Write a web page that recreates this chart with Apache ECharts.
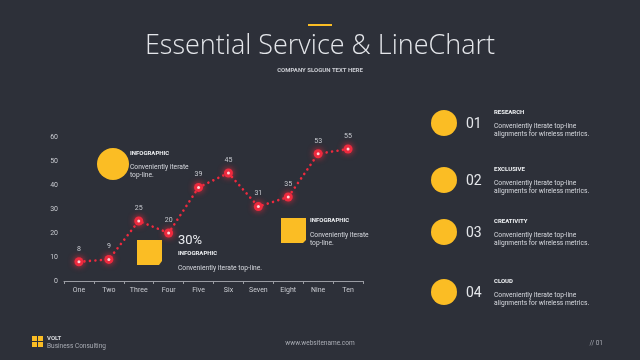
<!DOCTYPE html>
<html><head><meta charset="utf-8">
<script src="https://cdn.jsdelivr.net/npm/echarts@6/dist/echarts.min.js"></script>
<style>html,body{margin:0;padding:0;background:#2d3039;}#c{width:640px;height:360px;}</style>
</head><body><div id="c"></div>
<script>
const categories = ['One','Two','Three','Four','Five','Six','Seven','Eight','Nine','Ten'];
const values = [8, 9, 25, 20, 39, 45, 31, 35, 53, 55];
const yMin = 0, yMax = 60, yStep = 10;
const features = [
  {num:'01', title:'RESEARCH'},
  {num:'02', title:'EXCLUSIVE'},
  {num:'03', title:'CREATIVITY'},
  {num:'04', title:'CLOUD'}
];
const featureY = [123, 180, 232, 292];
const featureDesc = 'Conveniently iterate top-line\nalignments for wireless metrics.';

const GOLD = '#fbbd24', RED = '#ee2a3e', TXT = '#d6d8de';
const chart = echarts.init(document.getElementById('c'));

const g = [];
g.push({type:'rect', shape:{x:308,y:24,width:24,height:2}, style:{fill:GOLD}});
g.push({type:'text', x:320, y:46, style:{text:'Essential Service & LineChart', fill:'#e4e6ea', font:'300 27px "Open Sans"', textAlign:'center', textVerticalAlign:'middle'}});
g.push({type:'text', x:320, y:70, style:{text:'COMPANY SLOGUN TEXT HERE', fill:'#c9cbd1', font:'bold 6px "Liberation Sans Narrow", Roboto', textAlign:'center', textVerticalAlign:'middle'}});
g.push({type:'circle', shape:{cx:113,cy:164,r:16}, style:{fill:GOLD}});
g.push({type:'text', x:130, y:153, style:{text:'INFOGRAPHIC', fill:'#eef0f3', font:'bold 6px Roboto', textVerticalAlign:'middle'}});
g.push({type:'text', x:130, y:171, style:{text:'Conveniently iterate\ntop-line.', fill:TXT, font:'6.7px Roboto', lineHeight:8, textVerticalAlign:'middle'}});
g.push({type:'polygon', shape:{points:[[137,240],[162,240],[162,261],[159,265],[137,265]]}, style:{fill:GOLD}});
g.push({type:'text', x:178, y:241, style:{text:'30%', fill:'#e8eaee', font:'13px Roboto', textVerticalAlign:'middle'}});
g.push({type:'text', x:178, y:253, style:{text:'INFOGRAPHIC', fill:'#eef0f3', font:'bold 6px Roboto', textVerticalAlign:'middle'}});
g.push({type:'text', x:178, y:268, style:{text:'Conveniently iterate top-line.', fill:TXT, font:'6.7px Roboto', textVerticalAlign:'middle'}});
g.push({type:'polygon', shape:{points:[[281,218],[306,218],[306,240],[303,243],[281,243]]}, style:{fill:GOLD}});
g.push({type:'text', x:310, y:220, style:{text:'INFOGRAPHIC', fill:'#eef0f3', font:'bold 6px Roboto', textVerticalAlign:'middle'}});
g.push({type:'text', x:310, y:239, style:{text:'Conveniently iterate\ntop-line.', fill:TXT, font:'6.7px Roboto', lineHeight:8, textVerticalAlign:'middle'}});
features.forEach((f,i)=>{
  const y = featureY[i];
  g.push({type:'circle', shape:{cx:444,cy:y,r:13}, style:{fill:GOLD}});
  g.push({type:'text', x:466, y:y+1, style:{text:f.num, fill:'#e4e6ea', font:'14px Roboto', textVerticalAlign:'middle'}});
  g.push({type:'text', x:494, y:y-11, style:{text:f.title, fill:'#eef0f3', font:'bold 6px Roboto', textVerticalAlign:'middle'}});
  g.push({type:'text', x:494, y:y+7.5, style:{text:featureDesc, fill:TXT, font:'6.7px Roboto', lineHeight:7.5, textVerticalAlign:'middle'}});
});
[[32,336],[38,336],[32,342],[38,342]].forEach(p=>g.push({type:'rect', shape:{x:p[0],y:p[1],width:5,height:5}, style:{fill:GOLD}}));
g.push({type:'text', x:47, y:338, style:{text:'VOLT', fill:'#d8dade', font:'bold 6px Roboto', textVerticalAlign:'middle'}});
g.push({type:'text', x:47, y:346, style:{text:'Business Consulting', fill:'#a9acb4', font:'6.5px Roboto', textVerticalAlign:'middle'}});
g.push({type:'text', x:320, y:343, style:{text:'www.websitename.com', fill:'#a9acb4', font:'6.5px Roboto', textAlign:'center', textVerticalAlign:'middle'}});
g.push({type:'text', x:603, y:343, style:{text:'// 01', fill:'#a9acb4', font:'6.5px Roboto', textAlign:'right', textVerticalAlign:'middle'}});

chart.setOption({
  backgroundColor:'#2d3039',
  animation:false,
  grid:{left:64, right:277, top:137, bottom:79},
  xAxis:{type:'category', data:categories, boundaryGap:true,
    axisLine:{lineStyle:{color:'#9a9ca3', width:1}},
    axisTick:{show:true, length:3, lineStyle:{color:'#9a9ca3'}},
    axisLabel:{color:'#c9cbd1', fontSize:7, fontFamily:'Roboto', margin:6}},
  yAxis:{type:'value', min:yMin, max:yMax, interval:yStep,
    axisLine:{show:false}, axisTick:{show:false}, splitLine:{show:false},
    axisLabel:{color:'#c9cbd1', fontSize:7, fontFamily:'Roboto', margin:6}},
  series:[
    {type:'line', data:values, z:2,
      lineStyle:{color:RED, width:2.6, type:[0.01, 5.5], cap:'round'},
      symbol:'circle', symbolSize:9,
      itemStyle:{color:RED, shadowBlur:6, shadowColor:'rgba(255,40,60,0.9)'},
      label:{show:true, position:'top', distance:5, color:'#c9cbd1', fontSize:7, fontFamily:'Roboto'}},
    {type:'scatter', data:values, z:3, symbol:'circle', symbolSize:3, itemStyle:{color:'#ffffff'}, silent:true}
  ],
  graphic:g
});
</script></body></html>
